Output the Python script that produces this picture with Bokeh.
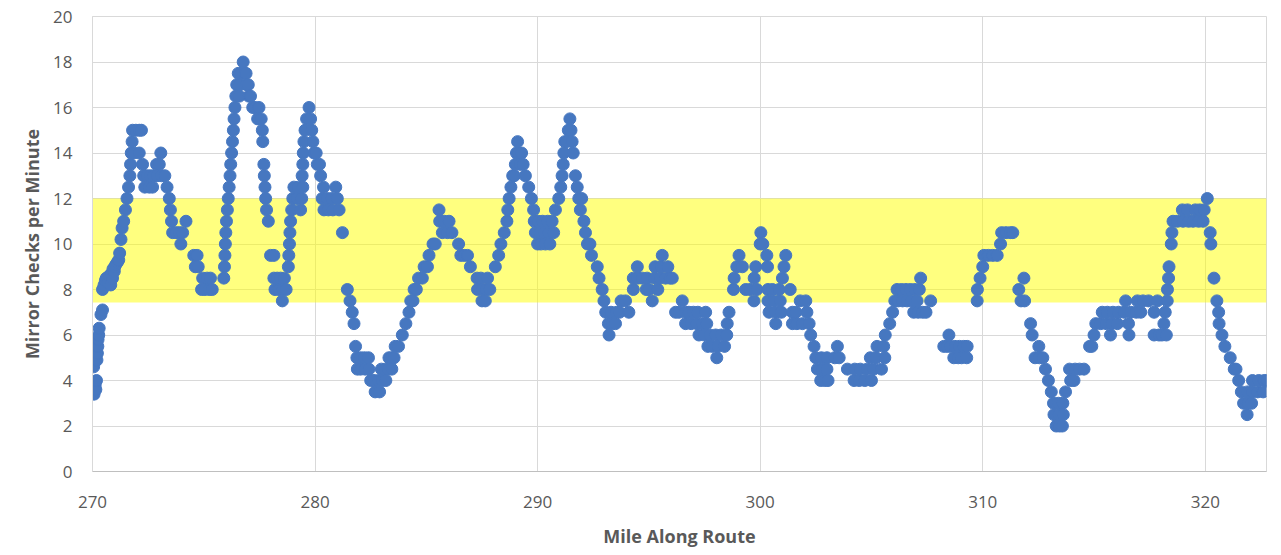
from bokeh.plotting import figure
from bokeh.models import BoxAnnotation, FixedTicker, Range1d
from bokeh.embed import file_html
from bokeh.resources import INLINE

# ---- data ----
mile = [
    270.00, 270.00, 270.05, 270.07, 270.12, 270.15, 270.18, 270.20, 270.22, 270.24,
    270.25, 270.28, 270.30, 270.38, 270.45, 270.45, 270.52, 270.58, 270.62, 270.70,
    270.75, 270.82, 270.85, 270.90, 270.92, 270.98, 271.00, 271.05, 271.12, 271.18,
    271.22, 271.28, 271.33, 271.40, 271.48, 271.55, 271.62, 271.68, 271.71, 271.74,
    271.78, 271.80, 271.85, 271.95, 272.10, 272.10, 272.20, 272.25, 272.30, 272.35,
    272.45, 272.55, 272.60, 272.70, 272.75, 272.88, 272.90, 273.00, 273.07, 273.10,
    273.25, 273.35, 273.45, 273.50, 273.55, 273.60, 273.75, 273.90, 273.97, 274.05,
    274.20, 274.55, 274.62, 274.70, 274.75, 274.90, 274.95, 275.05, 275.15, 275.25,
    275.30, 275.38, 275.90, 275.93, 275.95, 275.97, 275.99, 276.02, 276.06, 276.10,
    276.14, 276.18, 276.21, 276.25, 276.29, 276.33, 276.36, 276.40, 276.44, 276.48,
    276.55, 276.60, 276.62, 276.68, 276.77, 276.85, 276.90, 276.92, 277.00, 277.02,
    277.10, 277.20, 277.30, 277.42, 277.48, 277.58, 277.63, 277.65, 277.70, 277.72,
    277.75, 277.78, 277.82, 277.90, 278.00, 278.15, 278.15, 278.20, 278.30, 278.38,
    278.45, 278.53, 278.55, 278.62, 278.70, 278.80, 278.82, 278.85, 278.87, 278.90,
    278.95, 279.00, 279.05, 279.20, 279.25, 279.35, 279.40, 279.42, 279.45, 279.45,
    279.47, 279.50, 279.55, 279.62, 279.73, 279.80, 279.85, 279.90, 279.95, 280.05,
    280.10, 280.20, 280.25, 280.32, 280.38, 280.40, 280.55, 280.60, 280.75, 280.80,
    280.93, 281.00, 281.08, 281.23, 281.45, 281.57, 281.67, 281.75, 281.82, 281.88,
    281.90, 282.05, 282.05, 282.22, 282.25, 282.40, 282.42, 282.50, 282.65, 282.70,
    282.85, 282.90, 282.98, 283.02, 283.15, 283.18, 283.30, 283.32, 283.45, 283.45,
    283.55, 283.60, 283.75, 283.92, 284.08, 284.22, 284.30, 284.40, 284.45, 284.55,
    284.65, 284.82, 284.90, 285.05, 285.12, 285.30, 285.40, 285.57, 285.60, 285.72,
    285.80, 285.95, 286.02, 286.15, 286.45, 286.55, 286.70, 286.85, 286.98, 287.28,
    287.30, 287.45, 287.50, 287.52, 287.65, 287.70, 287.75, 287.85, 288.10, 288.25,
    288.35, 288.50, 288.62, 288.66, 288.72, 288.80, 288.88, 288.95, 289.00, 289.05,
    289.10, 289.15, 289.22, 289.28, 289.35, 289.45, 289.60, 289.72, 289.82, 289.85,
    289.90, 290.00, 290.02, 290.10, 290.15, 290.22, 290.30, 290.35, 290.45, 290.50,
    290.55, 290.65, 290.72, 290.80, 290.95, 291.04, 291.10, 291.15, 291.18, 291.22,
    291.30, 291.38, 291.45, 291.50, 291.55, 291.60, 291.70, 291.78, 291.85, 291.92,
    291.98, 292.08, 292.15, 292.24, 292.35, 292.42, 292.68, 292.76, 292.90, 292.98,
    293.06, 293.18, 293.21, 293.30, 293.35, 293.50, 293.55, 293.68, 293.75, 293.95,
    294.10, 294.30, 294.30, 294.48, 294.50, 294.70, 294.88, 294.92, 295.00, 295.15,
    295.25, 295.28, 295.40, 295.50, 295.55, 295.60, 295.75, 295.85, 295.95, 296.05,
    296.20, 296.35, 296.50, 296.65, 296.65, 296.80, 296.90, 297.00, 297.15, 297.20,
    297.25, 297.40, 297.55, 297.50, 297.60, 297.65, 297.75, 297.85, 298.00, 298.05,
    298.10, 298.25, 298.40, 298.50, 298.52, 298.60, 298.80, 298.83, 298.95, 299.05,
    299.20, 299.35, 299.55, 299.72, 299.73, 299.80, 299.85, 300.00, 300.03, 300.12,
    300.30, 300.33, 300.35, 300.35, 300.40, 300.55, 300.60, 300.70, 300.70, 300.85,
    300.90, 300.95, 301.00, 301.07, 301.15, 301.35, 301.45, 301.45, 301.60, 301.65,
    301.80, 301.90, 302.05, 302.10, 302.20, 302.27, 302.42, 302.50, 302.57, 302.72,
    302.75, 302.80, 302.90, 303.00, 303.00, 303.05, 303.35, 303.47, 303.55, 303.92,
    304.22, 304.25, 304.45, 304.50, 304.70, 304.80, 304.95, 305.00, 305.10, 305.20,
    305.25, 305.45, 305.55, 305.60, 305.62, 305.82, 305.95, 306.05, 306.15, 306.20,
    306.35, 306.40, 306.55, 306.60, 306.75, 306.80, 306.90, 306.95, 307.05, 307.10,
    307.15, 307.21, 307.30, 307.45, 307.66, 308.25, 308.40, 308.48, 308.55, 308.70,
    308.75, 308.90, 308.95, 309.05, 309.15, 309.28, 309.30, 309.75, 309.76, 309.88,
    310.00, 310.05, 310.25, 310.45, 310.65, 310.80, 310.85, 311.05, 311.25, 311.35,
    311.62, 311.72, 311.85, 311.88, 312.15, 312.22, 312.35, 312.52, 312.55, 312.70,
    312.82, 312.95, 313.08, 313.18, 313.20, 313.30, 313.40, 313.42, 313.45, 313.58,
    313.60, 313.62, 313.72, 313.90, 313.95, 314.10, 314.15, 314.35, 314.55, 314.80,
    314.90, 315.00, 315.08, 315.30, 315.37, 315.55, 315.60, 315.74, 315.80, 315.85,
    316.05, 316.10, 316.35, 316.42, 316.55, 316.57, 316.65, 316.90, 316.95, 317.10,
    317.20, 317.45, 317.70, 317.70, 317.85, 317.92, 318.05, 318.14, 318.20, 318.25,
    318.29, 318.30, 318.35, 318.37, 318.47, 318.50, 318.55, 318.75, 318.97, 319.00,
    319.20, 319.25, 319.45, 319.55, 319.70, 319.75, 319.90, 319.95, 320.09, 320.22,
    320.25, 320.39, 320.52, 320.60, 320.62, 320.75, 320.88, 321.12, 321.30, 321.38,
    321.50, 321.62, 321.72, 321.88, 321.92, 321.90, 322.08, 322.12, 322.12, 322.35,
    322.40, 322.60, 322.65, 322.78,
]

checks = [
    3.5, 3.7, 4.6, 3.4, 3.8, 3.6, 4.0, 4.9, 5.2, 5.5,
    5.8, 6.0, 6.3, 6.9, 7.1, 8.0, 8.2, 8.4, 8.5, 8.3,
    8.6, 8.2, 8.7, 8.5, 8.9, 8.8, 9.0, 9.1, 9.2, 9.3,
    9.6, 10.2, 10.7, 11.0, 11.5, 12.0, 12.5, 13.0, 13.5, 14.0,
    14.5, 15.0, 14.0, 15.0, 15.0, 14.0, 15.0, 13.5, 13.0, 12.5,
    13.0, 12.5, 13.0, 12.5, 13.0, 13.5, 13.0, 13.5, 14.0, 13.0,
    13.0, 12.5, 12.0, 11.5, 11.0, 10.5, 10.5, 10.5, 10.0, 10.5,
    11.0, 9.5, 9.0, 9.5, 9.0, 8.0, 8.5, 8.0, 8.5, 8.0,
    8.5, 8.0, 8.5, 9.0, 9.5, 10.0, 10.5, 11.0, 11.5, 12.0,
    12.5, 13.0, 13.5, 14.0, 14.5, 15.0, 15.5, 16.0, 16.5, 17.0,
    17.5, 16.5, 17.0, 17.5, 18.0, 17.5, 17.5, 17.0, 17.0, 16.5,
    16.5, 16.0, 16.0, 15.5, 16.0, 15.5, 15.0, 14.5, 13.5, 13.0,
    12.5, 12.0, 11.5, 11.0, 9.5, 9.5, 8.5, 8.0, 8.5, 8.0,
    8.5, 7.5, 8.0, 8.5, 8.0, 9.0, 9.5, 10.0, 10.5, 11.0,
    11.5, 12.0, 12.5, 12.0, 12.5, 11.5, 12.0, 13.0, 12.5, 13.5,
    14.0, 14.5, 15.0, 15.5, 16.0, 15.5, 15.0, 14.5, 14.0, 14.0,
    13.5, 13.5, 13.0, 12.0, 12.5, 11.5, 12.0, 11.5, 12.0, 11.5,
    12.5, 12.0, 11.5, 10.5, 8.0, 7.5, 7.0, 6.5, 5.5, 5.0,
    4.5, 5.0, 4.5, 5.0, 4.5, 5.0, 4.5, 4.0, 4.0, 3.5,
    4.0, 3.5, 4.5, 4.0, 4.5, 4.0, 4.5, 5.0, 4.5, 5.0,
    5.0, 5.5, 5.5, 6.0, 6.5, 7.0, 7.5, 7.5, 8.0, 8.0,
    8.5, 8.5, 9.0, 9.0, 9.5, 10.0, 10.0, 11.5, 11.0, 10.5,
    11.0, 10.5, 11.0, 10.5, 10.0, 9.5, 9.5, 9.5, 9.0, 8.5,
    8.0, 8.5, 7.5, 8.0, 7.5, 8.0, 8.5, 8.0, 9.0, 9.5,
    10.0, 10.5, 11.0, 11.5, 12.0, 12.5, 13.0, 13.0, 13.5, 14.0,
    14.5, 14.0, 13.5, 14.0, 13.5, 13.0, 12.5, 12.0, 11.5, 11.0,
    10.5, 10.0, 11.0, 10.5, 10.0, 11.0, 10.5, 10.0, 11.0, 10.5,
    10.0, 11.0, 10.5, 11.5, 12.0, 12.5, 13.0, 13.5, 14.0, 14.5,
    14.5, 15.0, 15.5, 15.0, 14.5, 14.0, 13.0, 12.5, 12.0, 11.5,
    12.0, 11.0, 10.5, 10.0, 10.0, 9.5, 9.0, 8.5, 8.0, 7.5,
    7.0, 6.5, 6.0, 7.0, 6.5, 6.5, 7.0, 7.0, 7.5, 7.5,
    7.0, 8.0, 8.5, 9.0, 8.5, 8.5, 8.0, 8.5, 8.0, 7.5,
    8.5, 9.0, 8.0, 8.5, 9.0, 9.5, 8.5, 9.0, 8.5, 8.5,
    7.0, 7.0, 7.5, 6.5, 7.0, 7.0, 6.5, 7.0, 6.5, 7.0,
    6.0, 6.5, 7.0, 6.0, 6.5, 5.5, 6.0, 5.5, 6.0, 5.0,
    5.5, 6.0, 5.5, 6.0, 6.5, 7.0, 8.0, 8.5, 9.0, 9.5,
    9.0, 8.0, 8.0, 7.5, 8.5, 9.0, 8.0, 10.0, 10.5, 10.0,
    9.5, 9.0, 8.0, 7.5, 7.0, 8.0, 7.5, 7.0, 6.5, 8.0,
    7.5, 7.0, 8.5, 9.0, 9.5, 8.0, 7.0, 6.5, 7.0, 6.5,
    7.5, 6.5, 7.5, 7.0, 6.5, 6.0, 5.5, 5.0, 4.5, 4.0,
    5.0, 4.5, 4.0, 5.0, 4.5, 4.0, 5.0, 5.5, 5.0, 4.5,
    4.0, 4.5, 4.0, 4.5, 4.0, 4.5, 5.0, 4.0, 4.5, 5.0,
    5.5, 4.5, 5.5, 5.0, 6.0, 6.5, 7.0, 7.5, 8.0, 7.5,
    8.0, 7.5, 8.0, 7.5, 8.0, 7.5, 7.0, 8.0, 7.5, 7.0,
    8.0, 8.5, 7.0, 7.0, 7.5, 5.5, 5.5, 6.0, 5.5, 5.0,
    5.5, 5.0, 5.5, 5.0, 5.5, 5.0, 5.5, 7.5, 8.0, 8.5,
    9.0, 9.5, 9.5, 9.5, 9.5, 10.0, 10.5, 10.5, 10.5, 10.5,
    8.0, 7.5, 8.5, 7.5, 6.5, 6.0, 5.0, 5.5, 5.0, 5.0,
    4.5, 4.0, 3.5, 3.0, 2.5, 2.0, 3.0, 2.5, 2.0, 2.0,
    3.0, 2.5, 3.5, 4.5, 4.0, 4.0, 4.5, 4.5, 4.5, 5.5,
    5.5, 6.0, 6.5, 6.5, 7.0, 6.5, 7.0, 6.0, 6.5, 7.0,
    6.5, 7.0, 7.0, 7.5, 6.5, 6.0, 7.0, 7.0, 7.5, 7.0,
    7.5, 7.5, 6.0, 7.0, 7.5, 6.0, 6.0, 6.5, 7.0, 6.0,
    7.5, 8.0, 8.5, 9.0, 10.0, 10.5, 11.0, 11.0, 11.5, 11.0,
    11.5, 11.0, 11.0, 11.5, 11.0, 11.5, 11.0, 11.5, 12.0, 10.5,
    10.0, 8.5, 7.5, 7.0, 6.5, 6.0, 5.5, 5.0, 4.5, 4.5,
    4.0, 3.5, 3.0, 2.5, 3.0, 3.5, 3.0, 3.5, 4.0, 3.5,
    4.0, 3.5, 4.0, 4.0,
]

x_ticks = [270, 280, 290, 300, 310, 320]
y_ticks = [0, 2, 4, 6, 8, 10, 12, 14, 16, 18, 20]
x_limits = (270, 322.75)
y_limits = (0, 20)
band_low = 7.43
band_high = 12.0

x_title = "Mile Along Route"
y_title = "Mirror Checks per Minute"

DOT = "#4677c0"
GRID = "#d9d9d9"
TXT = "#595959"
FONT = "Open Sans"

p = figure(
    width=1275, height=550,
    output_backend="svg", toolbar_location=None,
    x_range=Range1d(*x_limits), y_range=Range1d(*y_limits),
    min_border_left=92, min_border_right=9, min_border_top=16, min_border_bottom=77,
)
p.background_fill_color = "white"
p.border_fill_color = "white"
p.outline_line_color = GRID
p.outline_line_width = 1

band = BoxAnnotation(bottom=band_low, top=band_high, fill_color="#ffff00",
                     fill_alpha=0.5, line_color=None, level="underlay")
p.add_layout(band)

p.xaxis.ticker = FixedTicker(ticks=x_ticks)
p.yaxis.ticker = FixedTicker(ticks=y_ticks)
p.xgrid.ticker = FixedTicker(ticks=x_ticks)
p.ygrid.ticker = FixedTicker(ticks=y_ticks)
for g in (p.xgrid, p.ygrid):
    g.grid_line_color = GRID
    g.grid_line_width = 1

for ax in (p.xaxis, p.yaxis):
    ax.major_tick_in = 0
    ax.major_tick_out = 0
    ax.minor_tick_in = 0
    ax.minor_tick_out = 0
    ax.major_label_text_font = FONT
    ax.major_label_text_font_size = "17px"
    ax.major_label_text_color = TXT
    ax.axis_label_text_font = FONT
    ax.axis_label_text_font_size = "18px"
    ax.axis_label_text_font_style = "bold"
    ax.axis_label_text_color = TXT

p.xaxis.axis_line_color = "#bfbfbf"
p.yaxis.axis_line_color = GRID
p.xaxis.axis_label = x_title
p.yaxis.axis_label = y_title
p.xaxis.major_label_standoff = 24
p.yaxis.major_label_standoff = 20
p.xaxis.axis_label_standoff = 13
p.yaxis.axis_label_standoff = 6

p.scatter(mile, checks, size=12, marker="circle",
          fill_color=DOT, line_color=DOT, line_width=1)

open("out.html", "w").write(file_html(p, INLINE))
